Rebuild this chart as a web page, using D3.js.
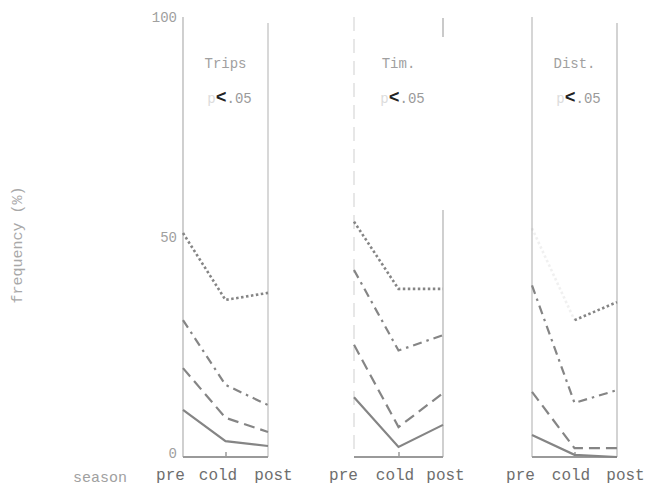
<!DOCTYPE html>
<html><head><meta charset="utf-8">
<script src="https://cdn.jsdelivr.net/npm/d3@7"></script>
<style>body{margin:0;background:#fff}svg{display:block}</style>
</head><body><div id="c"></div>
<script>
const seasons = ["pre","cold","post"];
const panelTitles = ["Trips","Tim.","Dist."];
const yTicks = [0,50,100];
// values (%) per panel: Trips, Time, Dist.
const dottedVals  = [[50.9,35.7,37.3],[53.5,38.2,38.2],[52.0,31.1,35.2]];
const dashDotVals = [[31.1,16.4,11.8],[42.5,24.2,27.7],[39.0,12.3,15.2]];
const dashedVals  = [[20.2,8.9,5.7],[25.5,6.8,14.5],[14.8,2.0,2.0]];
const solidVals   = [[10.7,3.6,2.5],[13.6,2.3,7.3],[5.0,0.5,0.0]];

const W=648,H=486;
const svg=d3.select("#c").append("svg").attr("width",W).attr("height",H);
const font="'Liberation Mono','DejaVu Sans Mono',monospace";
const y=d3.scaleLinear().domain([0,100]).range([457,17]);
const ranges=[[183,268],[354,443],[532,617]];
const labelShift=[[-13,-8,5],[-11,-4,2],[-12,-4,8]];
const sideTop=[[17,23],[17,210],[17,23]];
const sideCol=[["#c4c4c4","#cfcfcf"],["#e2e2e2","#c4c4c4"],["#cccccc","#c8c8c8"]];
const styles=[
 {vals:dottedVals, dash:"2.5,2.5", w:2.6},
 {vals:dashDotVals, dash:"9,5,2.5,5", w:2.2},
 {vals:dashedVals, dash:"11,6", w:2.2},
 {vals:solidVals, dash:null, w:2.2}
];
ranges.forEach((r,pi)=>{
  const x=d3.scalePoint().domain(seasons).range(r);
  const g=svg.append("g");
  // side lines
  [0,1].forEach(k=>{
    g.append("line").attr("x1",r[k]).attr("x2",r[k]).attr("y1",sideTop[pi][k]).attr("y2",y(0))
      .attr("stroke",sideCol[pi][k]).attr("stroke-width",1.6)
      .attr("stroke-dasharray",pi===1&&k===0?"14,8":null);
  });
  if(pi===1){
    g.append("line").attr("x1",r[1]).attr("x2",r[1]).attr("y1",18).attr("y2",37)
      .attr("stroke","#bdbdbd").attr("stroke-width",1.6);
  }
  // bottom axis
  const ax=g.append("g").attr("transform",`translate(0,${y(0)})`)
    .call(d3.axisBottom(x).tickSize(-5).tickPadding(12));
  ax.select(".domain").attr("stroke","#9a9a9a").attr("stroke-width",2.2)
    .attr("d",`M${r[0]},0H${r[1]}`);
  ax.selectAll(".tick line").attr("stroke","#9a9a9a").attr("stroke-width",1.5)
    .attr("opacity",(d)=>d==="cold"?1:0);
  ax.selectAll(".tick text").attr("font-family",font).attr("font-size",16)
    .attr("fill","#6e6e6e").attr("dx",(d,i)=>labelShift[pi][i]);
  // series
  styles.forEach((s,si)=>{
    const line=d3.line().x((d,i)=>x(seasons[i])).y(d=>y(d));
    const v=s.vals[pi];
    if(pi===2&&si===0){
      // first segment faded in the scan
      const seg=d3.line().x(d=>x(d[0])).y(d=>y(d[1]));
      g.append("path").datum([[seasons[0],v[0]],[seasons[1],v[1]]]).attr("d",seg).attr("fill","none")
        .attr("stroke","#858585").attr("stroke-width",s.w).attr("stroke-dasharray",s.dash).attr("opacity",0.12);
      g.append("path").datum([[seasons[1],v[1]],[seasons[2],v[2]]]).attr("d",seg).attr("fill","none")
        .attr("stroke","#858585").attr("stroke-width",s.w).attr("stroke-dasharray",s.dash);
      return;
    }
    g.append("path").datum(v).attr("d",line).attr("fill","none")
      .attr("stroke","#858585").attr("stroke-width",s.w)
      .attr("stroke-dasharray",s.dash);
  });
  // title and p value
  const cx=x("cold");
  g.append("text").attr("x",cx).attr("y",68).attr("text-anchor","middle")
    .attr("font-family",font).attr("font-size",14).attr("fill","#a0a0a0").text(panelTitles[pi]);
  const t=g.append("text").attr("x",cx+4).attr("y",103).attr("text-anchor","middle")
    .attr("font-family",font).attr("font-size",14);
  t.append("tspan").attr("fill","#dcdcdc").text("p");
  t.append("tspan").attr("fill","#222").attr("font-weight","bold").attr("font-size",18).text("<");
  t.append("tspan").attr("fill","#9a9a9a").text(".05");
  if(pi===0){
    const ay=g.append("g").attr("transform",`translate(${r[0]-4},0)`)
      .call(d3.axisLeft(y).tickValues(yTicks).tickSize(0).tickPadding(2));
    ay.select(".domain").remove();
    ay.selectAll(".tick text").attr("font-family",font).attr("font-size",14).attr("fill","#a0a0a0")
      .attr("dy",d=>d===0?"0.05em":"0.32em");
  }
});
svg.append("text").attr("transform","translate(22,245) rotate(-90)").attr("text-anchor","middle")
  .attr("font-family",font).attr("font-size",15).attr("fill","#a8a8a8").text("frequency (%)");
svg.append("text").attr("x",100).attr("y",482).attr("text-anchor","middle")
  .attr("font-family",font).attr("font-size",15).attr("fill","#a0a0a0").text("season");
</script></body></html>
